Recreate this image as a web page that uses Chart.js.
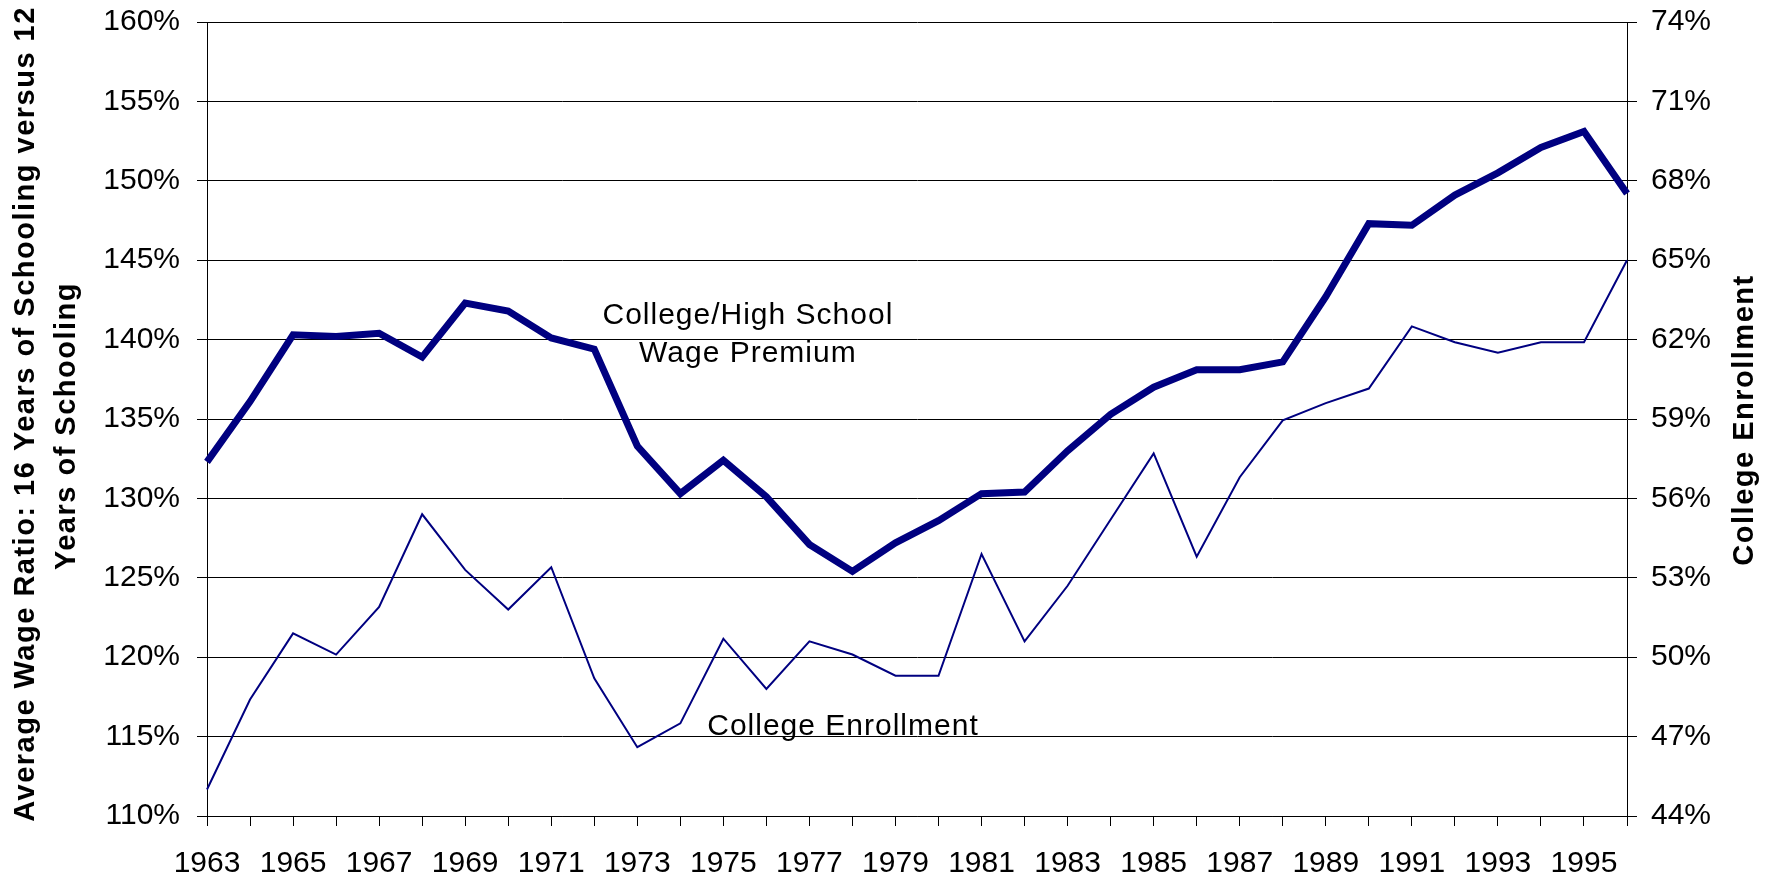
<!DOCTYPE html>
<html>
<head>
<meta charset="utf-8">
<script src="https://cdn.jsdelivr.net/npm/chart.js@4.4.1/dist/chart.umd.min.js"></script>
<style>
  body { margin: 0; background: #fff; }
  #wrap { width: 1776px; height: 879px; }
</style>
</head>
<body>
<div id="wrap"><canvas id="chart"></canvas></div>
<script>
// years on the x axis
const years = ['1963','1964','1965','1966','1967','1968','1969','1970','1971','1972',
  '1973','1974','1975','1976','1977','1978','1979','1980','1981','1982',
  '1983','1984','1985','1986','1987','1988','1989','1990','1991','1992',
  '1993','1994','1995','1996'];

// college / high school wage ratio, % (left axis)
const wagePremium = [132.3, 136.1, 140.3, 140.2, 140.4, 138.9, 142.3, 141.8, 140.1, 139.4,
  133.3, 130.3, 132.4, 130.1, 127.1, 125.4, 127.2, 128.6, 130.3, 130.4,
  133.0, 135.3, 137.0, 138.1, 138.1, 138.6, 142.7, 147.3, 147.2, 149.1,
  150.5, 152.1, 153.1, 149.2];

// college enrollment, % (right axis)
const enrollment = [45.0, 48.4, 50.9, 50.1, 51.9, 55.4, 53.3, 51.8, 53.4, 49.2,
  46.6, 47.5, 50.7, 48.8, 50.6, 50.1, 49.3, 49.3, 53.9, 50.6,
  52.7, 55.2, 57.7, 53.8, 56.8, 58.95, 59.6, 60.15, 62.5, 61.9,
  61.5, 61.9, 61.9, 65.0];

// axis ranges
const leftMin = 110, leftMax = 160, leftStep = 5;
const rightMin = 44, rightMax = 74, rightStep = 3;

const leftTitle = ['Average Wage Ratio: 16 Years of Schooling versus 12', 'Years of Schooling'];
const rightTitle = 'College Enrollment';

// in-chart labels, placed in data units (year index, left-axis value)
const notes = [
  { text: 'College/High School', at: 12.57, value: 141.0 },
  { text: 'Wage Premium', at: 12.57, value: 138.6 },
  { text: 'College Enrollment', at: 14.78, value: 115.1 }
];

const FONT = "'Liberation Sans', Arial, sans-serif";
const NAVY = '#000080';

const textPlugin = {
    id: 'textPlugin',
    afterDraw(chart) {
        const ctx = chart.ctx;
        const x = chart.scales.x, y = chart.scales.y;
        ctx.save();
        ctx.fillStyle = '#000';

        // series labels
        ctx.font = '30px ' + FONT;
        ctx.letterSpacing = '1px';
        ctx.textAlign = 'center';
        ctx.textBaseline = 'alphabetic';
        notes.forEach(n => {
            ctx.fillText(n.text, x.getPixelForValue(n.at), y.getPixelForValue(n.value));
        });

        // rotated axis titles
        ctx.font = 'bold 29px ' + FONT;
        ctx.letterSpacing = '1.5px';
        const rotated = (text, bx, cy) => {
            ctx.save();
            ctx.translate(bx, cy);
            ctx.rotate(-Math.PI / 2);
            ctx.fillText(text, 0, 0);
            ctx.restore();
        };
        rotated(leftTitle[0], 34, 414);
        rotated(leftTitle[1], 75, 426);
        rotated(rightTitle, 1753, 420);
        ctx.restore();
    }
};

const tickFont = { family: FONT, size: 30 };

// fixed box sizes so the plot area lands where the original has it
const fitY = w => s => { s.width = w; s.paddingTop = 0; s.paddingBottom = 0; };

new Chart(document.getElementById('chart'), {
    type: 'line',
    data: {
        labels: years,
        datasets: [
            {
                label: 'College/High School Wage Premium',
                data: wagePremium,
                yAxisID: 'y',
                borderColor: NAVY,
                borderWidth: 7,
                borderJoinStyle: 'miter',
                pointRadius: 0,
                tension: 0
            },
            {
                label: 'College Enrollment',
                data: enrollment,
                yAxisID: 'y1',
                borderColor: NAVY,
                borderWidth: 2,
                borderJoinStyle: 'miter',
                pointRadius: 0,
                tension: 0
            }
        ]
    },
    options: {
        responsive: true,
        maintainAspectRatio: false,
        animation: false,
        layout: { padding: { top: 22, left: 0, right: 0, bottom: 0 } },
        plugins: {
            legend: { display: false },
            tooltip: { enabled: false }
        },
        scales: {
            x: {
                offset: false,
                grid: { drawOnChartArea: false, color: '#000', tickLength: 10 },
                border: { color: '#000', width: 1 },
                ticks: {
                    autoSkip: false,
                    maxRotation: 0,
                    color: '#000',
                    font: tickFont,
                    padding: 20,
                    callback: (v, i) => (i % 2 === 0 ? years[i] : '')
                },
                afterFit: s => { s.height = 63; s.paddingLeft = 0; s.paddingRight = 0; }
            },
            y: {
                position: 'left',
                min: leftMin,
                max: leftMax,
                grid: { color: '#000', lineWidth: 1, tickLength: 10 },
                border: { color: '#000', width: 1 },
                ticks: {
                    stepSize: leftStep,
                    color: '#000',
                    font: tickFont,
                    padding: 17,
                    callback: v => v + '%'
                },
                afterFit: fitY(207)
            },
            y1: {
                position: 'right',
                min: rightMin,
                max: rightMax,
                grid: { drawOnChartArea: false, color: '#000', tickLength: 10 },
                border: { color: '#000', width: 1 },
                ticks: {
                    stepSize: rightStep,
                    color: '#000',
                    font: tickFont,
                    padding: 14,
                    callback: v => v + '%'
                },
                afterFit: fitY(149)
            }
        }
    },
    plugins: [textPlugin]
});
</script>
</body>
</html>
